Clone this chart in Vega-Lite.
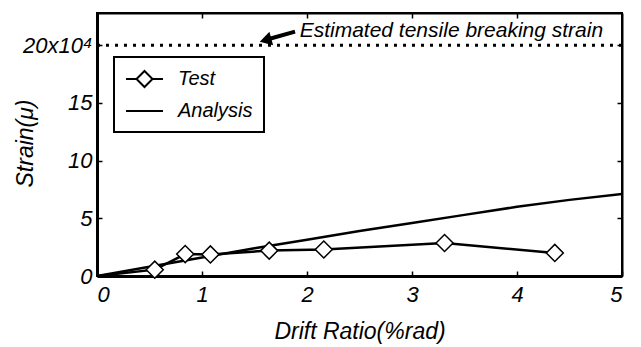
{
  "$schema": "https://vega.github.io/schema/vega-lite/v6.json",
  "width": 525,
  "height": 263,
  "autosize": {"type": "none"},
  "padding": {"left": 97, "top": 13, "right": 19, "bottom": 71},
  "background": "white",
  "config": {
    "view": {"stroke": "black", "strokeWidth": 2},
    "font": "Liberation Sans",
    "axis": {
      "grid": false,
      "domainColor": "black",
      "tickColor": "black",
      "labelColor": "black",
      "titleColor": "black",
      "labelFont": "Liberation Sans",
      "labelFontStyle": "italic",
      "labelFontSize": 22,
      "titleFont": "Liberation Sans",
      "titleFontStyle": "italic",
      "titleFontWeight": "normal",
      "titleFontSize": 23,
      "tickSize": -5,
      "tickWidth": 1.5
    }
  },
  "resolve": {"axis": {"x": "independent", "y": "independent"}},
  "datasets": {
    "curves": [
      {"series": "Analysis", "drift": 0, "strain": 0},
      {"series": "Analysis", "drift": 0.5, "strain": 0.8},
      {"series": "Analysis", "drift": 1, "strain": 1.6},
      {"series": "Analysis", "drift": 1.5, "strain": 2.4},
      {"series": "Analysis", "drift": 2, "strain": 3.15},
      {"series": "Analysis", "drift": 2.5, "strain": 3.9},
      {"series": "Analysis", "drift": 3, "strain": 4.6},
      {"series": "Analysis", "drift": 3.5, "strain": 5.3},
      {"series": "Analysis", "drift": 4, "strain": 6.0},
      {"series": "Analysis", "drift": 4.5, "strain": 6.6},
      {"series": "Analysis", "drift": 5, "strain": 7.1},
      {"series": "Test", "drift": 0, "strain": 0},
      {"series": "Test", "drift": 0.55, "strain": 0.55},
      {"series": "Test", "drift": 0.84, "strain": 1.9},
      {"series": "Test", "drift": 1.08, "strain": 1.87},
      {"series": "Test", "drift": 1.64, "strain": 2.2},
      {"series": "Test", "drift": 2.16, "strain": 2.3},
      {"series": "Test", "drift": 3.31, "strain": 2.86},
      {"series": "Test", "drift": 4.36, "strain": 2.0}
    ]
  },
  "layer": [
    {
      "data": {"name": "curves"},
      "mark": {"type": "line", "strokeWidth": 2.5, "clip": true},
      "encoding": {
        "x": {
          "field": "drift", "type": "quantitative",
          "scale": {"domain": [0, 5], "nice": false, "zero": false},
          "axis": {
            "orient": "bottom", "values": [0, 1, 2, 3, 4, 5],
            "title": "Drift Ratio(%rad)", "domainWidth": 3,
            "labelPadding": 13, "titlePadding": 15
          }
        },
        "y": {
          "field": "strain", "type": "quantitative",
          "scale": {"domain": [0, 22.8], "nice": false, "zero": false},
          "axis": {
            "orient": "left", "values": [0, 5, 10, 15, 20],
            "title": "Strain(μ)", "domainWidth": 3,
            "labelPadding": 10,
            "titleX": -72, "titleY": 130, "titleAngle": 270,
            "titleAlign": "center", "titleBaseline": "middle",
            "labelExpr": "datum.value == 20 ? '20x10⁴' : datum.label"
          }
        },
        "detail": {"field": "series"},
        "color": {
          "field": "series", "type": "nominal",
          "scale": {"domain": ["Test", "Analysis"], "range": ["black", "black"]},
          "legend": {
            "orient": "none", "legendX": 17, "legendY": 44,
            "title": null,
            "strokeColor": "black", "fillColor": "white",
            "padding": 11,
            "symbolType": "stroke", "symbolSize": 400, "symbolStrokeWidth": 2,
            "labelFont": "Liberation Sans", "labelFontStyle": "italic",
            "labelFontSize": 20, "labelColor": "black", "labelOffset": 31,
            "rowPadding": 9,
            "labelExpr": "datum.label == 'Test' ? ' Test' : datum.label",
            "encode": {
              "legend": {"update": {"strokeWidth": {"value": 2}}},
              "symbols": {
                "update": {
                  "shape": {"signal": "datum.value === 'Test' ? 'M-1,0H0.05M1.65,0H2.7M0.85,-0.8L1.65,0L0.85,0.8L0.05,0Z' : 'M-1,0H2.7'"},
                  "fill": {"value": "white"},
                  "stroke": {"value": "black"}
                }
              }
            }
          }
        }
      }
    },
    {
      "data": {"name": "curves"},
      "transform": [{"filter": "datum.series == 'Test' && datum.drift > 0"}],
      "mark": {"type": "point", "shape": "diamond", "filled": true, "fill": "white", "stroke": "black", "strokeWidth": 1.5, "size": 290, "opacity": 1},
      "encoding": {
        "x": {
          "field": "drift", "type": "quantitative",
          "axis": {"orient": "top", "values": [1, 2, 3, 4], "labels": false, "title": null, "domainWidth": 2}
        },
        "y": {
          "field": "strain", "type": "quantitative",
          "axis": {"orient": "right", "values": [5, 10, 15, 20], "labels": false, "title": null, "domainWidth": 2}
        }
      }
    },
    {
      "data": {"values": [{}]},
      "mark": {"type": "rule", "strokeWidth": 3, "strokeDash": [3, 6], "color": "black"},
      "encoding": {
        "y": {"datum": 20, "type": "quantitative", "axis": null}
      }
    },
    {
      "data": {"values": [{}]},
      "mark": {"type": "rule", "strokeWidth": 4, "color": "black"},
      "encoding": {
        "x": {"datum": 1.886, "type": "quantitative", "axis": null},
        "y": {"datum": 21.18, "type": "quantitative", "axis": null},
        "x2": {"datum": 1.62},
        "y2": {"datum": 20.5}
      }
    },
    {
      "data": {"values": [{}]},
      "mark": {"type": "point", "shape": "triangle-up", "filled": true, "color": "black", "size": 190, "angle": 254.5, "opacity": 1},
      "encoding": {
        "x": {"datum": 1.605, "type": "quantitative", "axis": null},
        "y": {"datum": 20.45, "type": "quantitative", "axis": null}
      }
    },
    {
      "data": {"values": [{}]},
      "mark": {"type": "text", "text": "Estimated tensile breaking strain", "align": "left", "baseline": "middle", "font": "Liberation Sans", "fontStyle": "italic", "fontSize": 21, "color": "black"},
      "encoding": {
        "x": {"datum": 1.93, "type": "quantitative", "axis": null},
        "y": {"datum": 21.27, "type": "quantitative", "axis": null}
      }
    }
  ]
}
